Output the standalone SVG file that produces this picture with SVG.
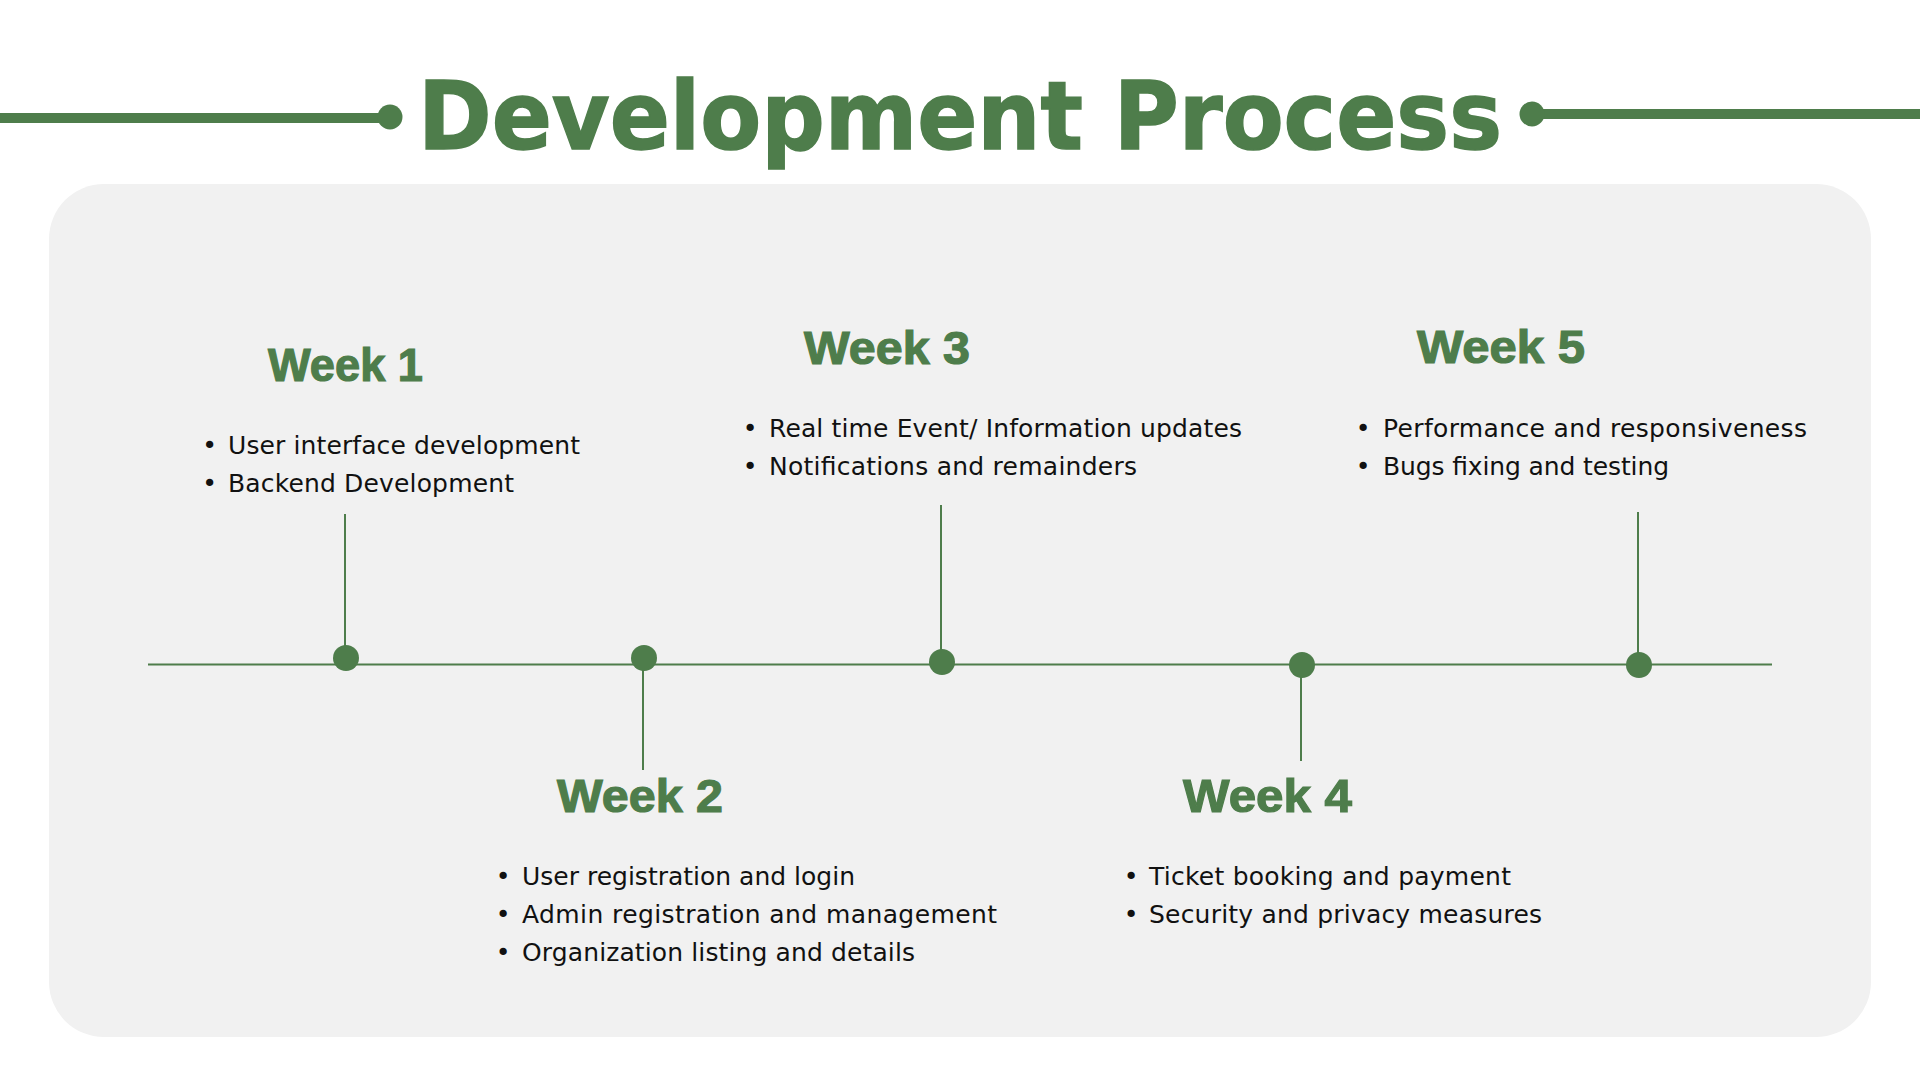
<svg xmlns="http://www.w3.org/2000/svg" width="1920" height="1080" viewBox="0 0 1920 1080">
  <defs>
    <style>
      .title { font-family: "DejaVu Sans", "Liberation Sans", sans-serif; font-weight: bold; font-size: 94px; fill: #4e7d4b; stroke: #4e7d4b; stroke-width: 1.5; }
      .head { font-family: "Liberation Sans", Arial, sans-serif; font-weight: bold; font-size: 47px; fill: #4e7d4b; stroke: #4e7d4b; stroke-width: 1.2; }
      .item { font-family: "DejaVu Sans", "Liberation Sans", sans-serif; font-size: 25px; fill: #111111; }
      .bul { font-family: "DejaVu Sans", "Liberation Sans", sans-serif; font-size: 25px; fill: #111111; text-anchor: middle; }
      .dot { fill: #4e7d4b; }
      .conn { stroke: #4e7d4b; stroke-width: 2; fill: none; }
      .rule { stroke: #4e7d4b; stroke-width: 10; fill: none; }
    </style>
  </defs>
  <rect x="0" y="0" width="1920" height="1080" fill="#ffffff"/>

  <g id="title">
    <line class="rule" x1="0" y1="118" x2="390" y2="118"/>
    <circle class="dot" cx="390" cy="117" r="12.5"/>
    <line class="rule" x1="1532" y1="114" x2="1920" y2="114"/>
    <circle class="dot" cx="1532" cy="114" r="12.5"/>
    <text class="title" x="418" y="149" textLength="1084" lengthAdjust="spacingAndGlyphs">Development Process</text>
  </g>

  <rect id="panel" x="49" y="184" width="1822" height="853" rx="55" ry="55" fill="#f1f1f1"/>

  <g id="connectors">
    <line class="conn" x1="148" y1="664.5" x2="1772" y2="664.5" stroke-width="2.5"/>
    <line class="conn" x1="345" y1="514" x2="345" y2="658"/>
    <line class="conn" x1="643" y1="658" x2="643" y2="770"/>
    <line class="conn" x1="941" y1="505" x2="941" y2="662"/>
    <line class="conn" x1="1301" y1="665" x2="1301" y2="761"/>
    <line class="conn" x1="1638" y1="512" x2="1638" y2="665"/>
  </g>

  <g id="week1">
    <circle class="dot" cx="346" cy="658" r="13"/>
    <text class="head" x="268" y="381" textLength="155" lengthAdjust="spacingAndGlyphs">Week 1</text>
    <text class="bul" x="209.5" y="454">•</text>
    <text class="item" x="228" y="454" textLength="352">User interface development</text>
    <text class="bul" x="209.5" y="492">•</text>
    <text class="item" x="228" y="492" textLength="286">Backend Development</text>
  </g>

  <g id="week2">
    <circle class="dot" cx="644" cy="658" r="13"/>
    <text class="head" x="557" y="812" textLength="166" lengthAdjust="spacingAndGlyphs">Week 2</text>
    <text class="bul" x="503" y="885">•</text>
    <text class="item" x="522" y="885" textLength="333">User registration and login</text>
    <text class="bul" x="503" y="923">•</text>
    <text class="item" x="522" y="923" textLength="475">Admin registration and management</text>
    <text class="bul" x="503" y="961">•</text>
    <text class="item" x="522" y="961" textLength="393">Organization listing and details</text>
  </g>

  <g id="week3">
    <circle class="dot" cx="942" cy="662" r="13"/>
    <text class="head" x="804" y="364" textLength="166" lengthAdjust="spacingAndGlyphs">Week 3</text>
    <text class="bul" x="750" y="437">•</text>
    <text class="item" x="769" y="437" textLength="473">Real time Event/ Information updates</text>
    <text class="bul" x="750" y="475">•</text>
    <text class="item" x="769" y="475" textLength="368">Notifications and remainders</text>
  </g>

  <g id="week4">
    <circle class="dot" cx="1302" cy="665" r="13"/>
    <text class="head" x="1183" y="812" textLength="169" lengthAdjust="spacingAndGlyphs">Week 4</text>
    <text class="bul" x="1131" y="885">•</text>
    <text class="item" x="1149" y="885" textLength="362">Ticket booking and payment</text>
    <text class="bul" x="1131" y="923">•</text>
    <text class="item" x="1149" y="923" textLength="393">Security and privacy measures</text>
  </g>

  <g id="week5">
    <circle class="dot" cx="1639" cy="665" r="13"/>
    <text class="head" x="1417" y="363" textLength="168" lengthAdjust="spacingAndGlyphs">Week 5</text>
    <text class="bul" x="1363" y="437">•</text>
    <text class="item" x="1383" y="437" textLength="424">Performance and responsiveness</text>
    <text class="bul" x="1363" y="475">•</text>
    <text class="item" x="1383" y="475" textLength="286">Bugs fixing and testing</text>
  </g>
</svg>
